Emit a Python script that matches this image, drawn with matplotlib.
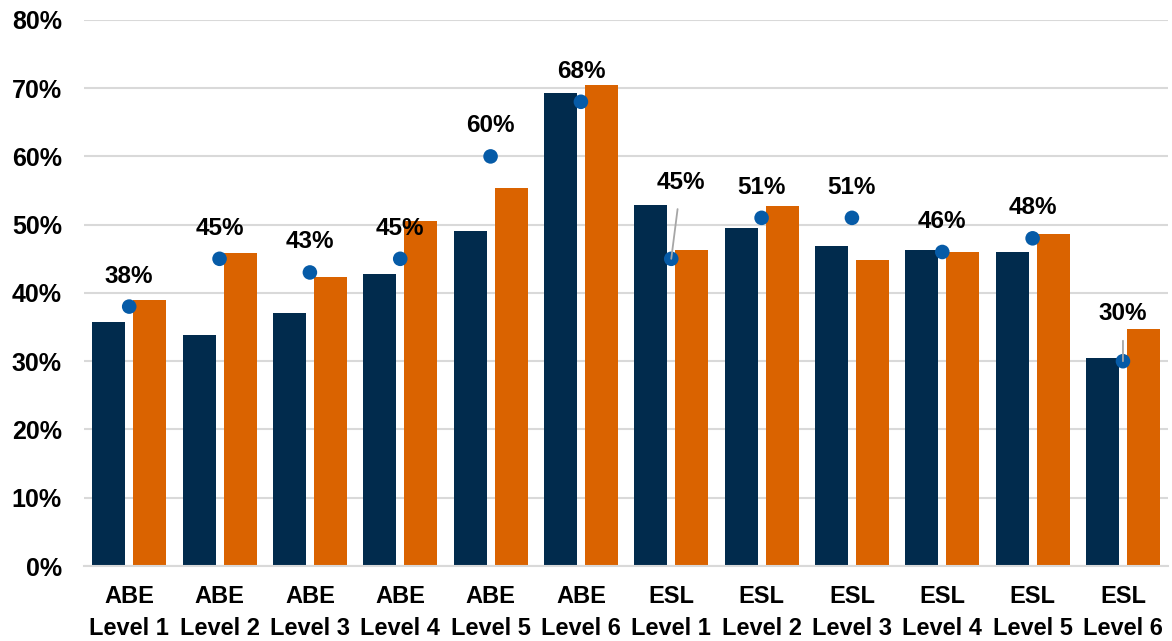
import matplotlib
matplotlib.use("Agg")
import matplotlib.pyplot as plt
import numpy as np

plt.rcParams['font.family'] = ['Liberation Sans', 'DejaVu Sans']

categories = ["ABE\nLevel 1", "ABE\nLevel 2", "ABE\nLevel 3", "ABE\nLevel 4", "ABE\nLevel 5", "ABE\nLevel 6",
              "ESL\nLevel 1", "ESL\nLevel 2", "ESL\nLevel 3", "ESL\nLevel 4", "ESL\nLevel 5", "ESL\nLevel 6"]
navy_vals = [35.8, 33.9, 37.1, 42.8, 49.1, 69.3, 52.9, 49.5, 46.9, 46.3, 46.0, 30.5]
orange_vals = [39.0, 45.9, 42.3, 50.5, 55.4, 70.5, 46.3, 52.7, 44.8, 46.0, 48.6, 34.7]
dot_vals = [38, 45, 43, 45, 60, 68, 45, 51, 51, 46, 48, 30]
dot_labels = ["38%", "45%", "43%", "45%", "60%", "68%", "45%", "51%", "51%", "46%", "48%", "30%"]

navy = "#012B4D"
orange = "#DA6300"
blue = "#065BA7"

fig = plt.figure(figsize=(11.72, 6.41), dpi=100)
ax = fig.add_axes([0.0717, 0.117, 0.925, 0.852])

x = np.arange(len(categories))
w = 0.365
ax.bar(x - 0.227, navy_vals, w, color=navy, zorder=2)
ax.bar(x + 0.227, orange_vals, w, color=orange, zorder=2)
ax.scatter(x, dot_vals, s=110, color=blue, zorder=4, edgecolors='none')

# label offsets in points (two labels were moved with leader lines)
offsets = {6: (7, 55), 11: (0, 34)}
for i, (v, lab) in enumerate(zip(dot_vals, dot_labels)):
    if i in offsets:
        ax.annotate(lab, (x[i], v), xytext=offsets[i], textcoords="offset points",
                    ha="center", va="center", fontsize=17.5, fontweight="bold",
                    arrowprops=dict(arrowstyle="-", color="#A6A6A6", lw=1.3,
                                    shrinkA=9, shrinkB=0), zorder=5)
    else:
        ax.annotate(lab, (x[i], v), xytext=(0, 22), textcoords="offset points",
                    ha="center", va="center", fontsize=17.5, fontweight="bold", zorder=5)

ax.set_xlim(-0.5, len(categories) - 0.5)
ax.set_ylim(0, 80)
ax.set_yticks(range(0, 81, 10))
ax.set_yticklabels([f"{t}%" for t in range(0, 81, 10)], fontsize=18, fontweight="bold")
ax.set_xticks(x)
ax.set_xticklabels(categories, fontsize=17, fontweight="bold", linespacing=1.45)
ax.yaxis.grid(True, color="#D9D9D9", lw=1.5, zorder=0)
ax.set_axisbelow(True)
for s in ["top", "right", "left"]:
    ax.spines[s].set_visible(False)
ax.spines["bottom"].set_color("#D9D9D9")
ax.spines["bottom"].set_linewidth(1.5)
ax.tick_params(axis="both", length=0)
ax.tick_params(axis="y", pad=16)
ax.tick_params(axis="x", pad=14)

fig.savefig("out.png", dpi=100)
